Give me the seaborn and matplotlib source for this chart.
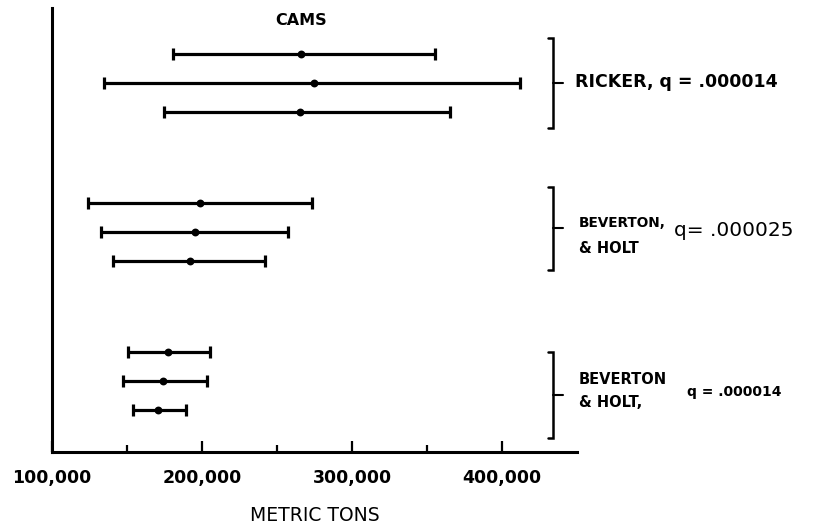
import numpy as np
import pandas as pd
import seaborn as sns
import matplotlib.pyplot as plt

# Data (metric tons)

group_labels = ["Ricker", "Ricker", "Ricker",
                "B&H q=.000025", "B&H q=.000025", "B&H q=.000025",
                "B&H q=.000014", "B&H q=.000014", "B&H q=.000014"]
member = [0, 1, 2, 0, 1, 2, 0, 1, 2]
low = [180500, 134500, 174500, 124000, 132500, 140500, 150500, 147000, 154000]
estimate = [266000, 274500, 265000, 198500, 195500, 192000, 177000, 174000, 170500]
high = [355500, 412000, 365000, 273000, 257000, 242000, 205000, 203000, 189000]

x_ticks = [100000, 200000, 300000, 400000]
x_tick_labels = ["100,000", "200,000", "300,000", "400,000"]

# Layout

sns.set_theme(style="white")
plt.rcParams["font.family"] = ["DejaVu Sans"]
plt.rcParams["text.color"] = "black"
plt.rcParams["axes.labelcolor"] = "black"
plt.rcParams["xtick.color"] = "black"

df = pd.DataFrame({"group": group_labels, "member": member,
                   "low": low, "estimate": estimate, "high": high})
group_order = list(dict.fromkeys(group_labels))
df["row"] = df["group"].map({g: i * 5.14 for i, g in enumerate(group_order)}) + df["member"]

fig = plt.figure(figsize=(8.17, 5.31), dpi=100)
ax = fig.add_axes([52 / 817, 79 / 531, 525 / 817, 444 / 531])

ax.errorbar(df["estimate"], df["row"],
            xerr=[df["estimate"] - df["low"], df["high"] - df["estimate"]],
            fmt="none", ecolor="black", elinewidth=2.3, capsize=4.3, capthick=2.3)
sns.scatterplot(data=df, x="estimate", y="row", color="black", s=32,
                edgecolor="black", linewidth=0, ax=ax, zorder=3, legend=False)

ax.set_xlim(100000, 450000)
ax.set_ylim(13.724, -1.586)

for side in ["top", "right"]:
    ax.spines[side].set_visible(False)
for side in ["left", "bottom"]:
    ax.spines[side].set_linewidth(2.2)
    ax.spines[side].set_color("black")

ax.set_yticks([])
ax.set_xticks(x_ticks)
ax.set_xticklabels(x_tick_labels, fontweight="bold", fontsize=12.5)
ax.set_xticks([150000, 250000, 350000], minor=True)
ax.tick_params(axis="x", which="major", direction="in", length=8, width=1.6,
               pad=12, color="black", labelcolor="black", bottom=True)
ax.tick_params(axis="x", which="minor", direction="in", length=5, width=1.6,
               color="black", bottom=True)
ax.set_xlabel("METRIC TONS", fontsize=13.5, labelpad=14, color="black")
ax.set_ylabel("")

# Title
ax.text(266000, -1.14, "CAMS", ha="center", va="center",
        fontweight="heavy", fontsize=11.5, color="black", clip_on=False)

# Brackets
bx = 434000
brackets = [(-0.55, 2.55, 1.0), (4.59, 7.45, 6.0), (10.28, 13.24, 11.76)]
for top, bot, mid in brackets:
    ax.plot([bx - 3300, bx, bx, bx - 3300], [top, top, bot, bot],
            color="black", lw=1.8, clip_on=False, solid_joinstyle="miter")
    ax.plot([bx, bx + 6500], [mid, mid], color="black", lw=1.5, clip_on=False)

# Bracket labels
ax.text(448500, 0.97, "RICKER, q = .000014", ha="left", va="center",
        fontweight="bold", fontsize=12.5, color="black", clip_on=False)

ax.text(451300, 5.83, "BEVERTON,", ha="left", va="center",
        fontweight="bold", fontsize=9.8, color="black", clip_on=False)
ax.text(514500, 6.07, "q= .000025", ha="left", va="center",
        fontsize=14.5, color="black", clip_on=False)
ax.text(451300, 6.69, "& HOLT", ha="left", va="center",
        fontweight="bold", fontsize=10.5, color="black", clip_on=False)

ax.text(451300, 11.24, "BEVERTON", ha="left", va="center",
        fontweight="bold", fontsize=10.5, color="black", clip_on=False)
ax.text(451300, 12.0, "& HOLT,", ha="left", va="center",
        fontweight="bold", fontsize=10.5, color="black", clip_on=False)
ax.text(523300, 11.66, "q = .000014", ha="left", va="center",
        fontweight="bold", fontsize=10, color="black", clip_on=False)

fig.savefig("out.png", dpi=100)
